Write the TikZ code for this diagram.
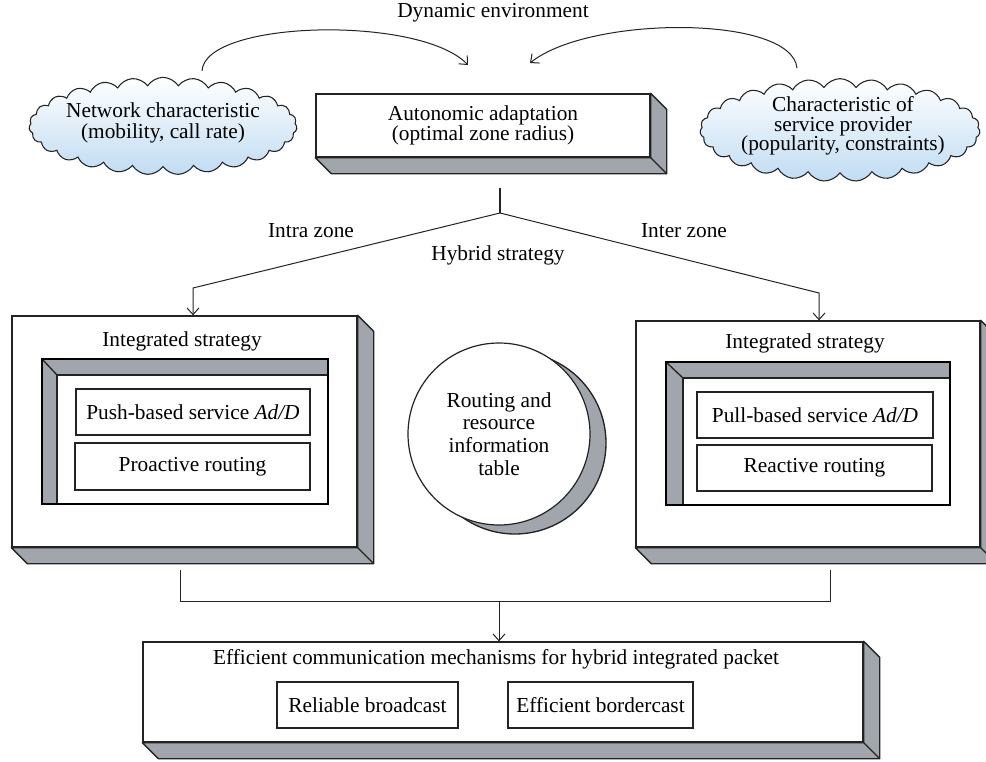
\documentclass[tikz,border=0pt]{standalone}
\usepackage{fontspec}
\setmainfont{Liberation Serif}
\usetikzlibrary{shapes.symbols,arrows.meta,calc}
\definecolor{depthgray}{RGB}{160,166,172}
\definecolor{cloudblue}{RGB}{192,220,242}
\definecolor{edge}{RGB}{35,35,35}
\newcommand\extrude[1]{%
  \draw[depthface] (#1.north east) -- ++(16,16) -- ($(#1.south east)+(16,16)$) -- ($(#1.south west)+(16,16)$) -- (#1.south west) -- (#1.south east) -- cycle;
  \draw[edge,line width=1pt] (#1.south east) -- ++(16,16);}
\begin{document}
\begin{tikzpicture}[x=0.75pt,y=-0.75pt,
  font=\fontsize{16}{15.5}\selectfont,
  front/.style={draw=edge, fill=white, line width=1pt, inner sep=0pt, align=center},
  depthface/.style={draw=edge, fill=depthgray, line width=1pt, line join=round},
  txtbox/.style={draw=edge, line width=0.9pt, inner sep=0pt, align=center},
  insetframe/.style={draw=black, line width=1.6pt},
  arr/.style={-{Straight Barb[length=5pt,width=9pt]}, line width=0.75pt, draw=edge},
  conn/.style={line width=0.75pt, draw=edge},
  puffy/.style={cloud, cloud puffs=27, cloud puff arc=115, cloud ignores aspect, draw=edge, line width=0.8pt, top color=white, bottom color=cloudblue, inner sep=0pt},
  lbl/.style={align=center, inner sep=0pt}]
\useasboundingbox (0,0) rectangle (986,761);

% ---- top ----
\node[lbl] (dyn) at (493,13) {Dynamic environment};
\node[puffy, minimum width=201pt, minimum height=73pt] (lcloud) at (163,126) {};
\node[lbl] (lcloudtxt) at (163,123) {Network characteristic\\(mobility, call rate)};
\node[puffy, minimum width=210pt, minimum height=77pt] (rcloud) at (840,130) {};
\node[lbl, font=\fontsize{16}{14.6}\selectfont] (rcloudtxt) at (843,126) {Characteristic of\\service provider\\(popularity, constraints)};

\node[front, minimum width=250.5pt, minimum height=47.25pt] (auto) at (483,125.5) {Autonomic adaptation\\(optimal zone radius)};
\extrude{auto}

\coordinate (latip) at (468,65);
\coordinate (ratip) at (530,63);
\draw[arr] ($(lcloud.north)+(39,-6)$) .. controls (205,20) and (420,15) .. (latip);
\draw[arr] ($(rcloud.north)+(-43,-10)$) .. controls (792,15) and (590,15) .. (ratip);

% ---- hybrid split ----
\coordinate (stemtop) at (500,188);
\coordinate (junc) at (500,213);
\coordinate (lcorner) at (193,288);
\coordinate (rcorner) at (819,293);
\draw[edge, line width=1.5pt] (stemtop) -- (junc);
\node[lbl] (intra) at (311,231) {Intra zone};
\node[lbl] (inter) at (684,231) {Inter zone};
\node[lbl] (hyb) at (498,255) {Hybrid strategy};

% ---- left big box ----
\node[front, minimum width=258.75pt, minimum height=173.25pt] (lbox) at (184.5,431.5) {};
\extrude{lbox}
\node[lbl] (lint) at (182,341) {Integrated strategy};
\fill[depthgray] (42,359) -- (328,359) -- (328,375) -- (57,375) -- (57,504) -- (42,504) -- cycle;
\draw[edge, line width=1pt] (328,375) -- (57,375) -- (57,504);
\draw[edge, line width=1pt] (42,359) -- (57,375);
\draw[insetframe] (42,359) rectangle (328,504);
\node[txtbox, minimum width=175.5pt, minimum height=34.5pt] (push) at (193,412) {Push-based service \textit{Ad/D}};
\node[txtbox, minimum width=176.25pt, minimum height=35.25pt] (proact) at (192.5,466.5) {Proactive routing};

% ---- right big box ----
\node[front, minimum width=258pt, minimum height=169.5pt] (rbox) at (808,434) {};
\extrude{rbox}
\node[lbl] (rint) at (805,343) {Integrated strategy};
\fill[depthgray] (666,362) -- (950,362) -- (950,378) -- (683,378) -- (683,505) -- (666,505) -- cycle;
\draw[edge, line width=1pt] (950,378) -- (683,378) -- (683,505);
\draw[edge, line width=1pt] (666,362) -- (683,378);
\draw[insetframe] (666,362) rectangle (950,505);
\node[txtbox, minimum width=177pt, minimum height=34.5pt] (pull) at (815,415) {Pull-based service \textit{Ad/D}};
\node[txtbox, minimum width=176.25pt, minimum height=34.5pt] (react) at (814.5,468) {Reactive routing};

\draw[arr] (junc) -- (lcorner) -- (lcorner |- lbox.north);
\draw[arr] (junc) -- (rcorner) -- (rcorner |- rbox.north);

% ---- circle ----
\coordinate (rshadow) at (515,443);
\draw[depthface] (rshadow) circle[radius=68.25pt];
\node[circle, draw=edge, fill=white, line width=0.9pt, minimum size=136.5pt, inner sep=0pt, align=center, font=\fontsize{16}{17}\selectfont] (rtab) at (499,434) {Routing and\\resource\\information\\table};

% ---- bottom ----
\node[front, minimum width=540pt, minimum height=75pt] (bbox) at (503,692) {};
\extrude{bbox}
\node[lbl] (btitle) at (496,659) {Efficient communication mechanisms for hybrid integrated packet};
\node[txtbox, minimum width=135.75pt, minimum height=34.5pt] (relb) at (367.5,705) {Reliable broadcast};
\node[txtbox, minimum width=138.75pt, minimum height=34.5pt] (effb) at (600.5,705) {Efficient bordercast};

\coordinate (lfoot) at (180,570);
\coordinate (rfoot) at (830,570);
\coordinate (bjoin) at (499,601);
\draw[conn] (lfoot) -- (lfoot |- bjoin) -- (rfoot |- bjoin) -- (rfoot);
\draw[arr] (bjoin) -- (bjoin |- bbox.north);
\end{tikzpicture}
\end{document}
